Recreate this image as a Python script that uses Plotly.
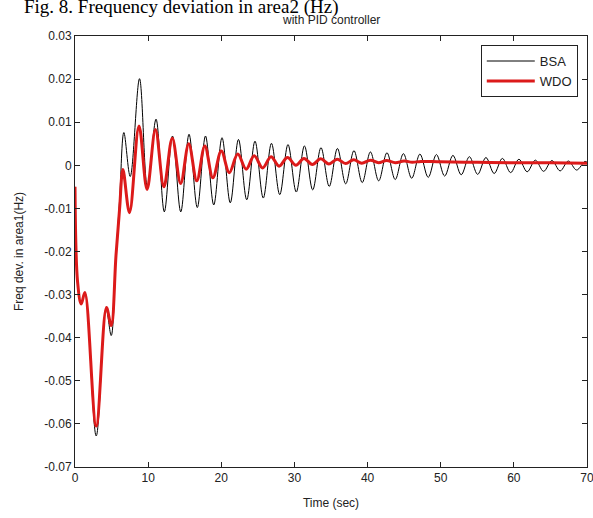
import plotly.graph_objects as go

# ---- data (extrema / turning points) ----
bsa_t = [0.0, 0.35, 0.85, 1.35, 2.9, 4.25, 4.95, 5.6, 6.1, 6.68, 7.55, 8.82, 9.9,
         11.08, 12.21, 13.33, 14.46, 15.59, 16.72, 17.84, 18.97, 20.10, 21.23,
         22.35, 23.48, 24.61, 25.74, 26.86, 27.99, 29.12, 30.25, 31.37, 32.50,
         33.63, 34.76, 35.88, 37.01, 38.14, 39.27, 40.39, 41.52, 42.65, 43.78,
         44.90, 46.03, 47.16, 48.29, 49.41, 50.54, 51.67, 52.80, 53.92, 55.05,
         56.18, 57.31, 58.43, 59.56, 60.69, 61.82, 62.94, 64.07, 65.20, 66.33,
         67.45, 68.58, 69.71, 70.0]
bsa_v = [-0.005, -0.027, -0.0322, -0.0295, -0.0628, -0.0333, -0.0395, -0.021, -0.008,
         0.0076, -0.0026, 0.0201, -0.0050,
         0.0107, -0.0108, 0.0068, -0.0108, 0.0072, -0.0098, 0.0068, -0.0092, 0.0064,
         -0.0087, 0.0060, -0.0080, 0.0056, -0.0076, 0.0051, -0.0068, 0.0048, -0.0062,
         0.0045, -0.0057, 0.0041, -0.0049, 0.0039, -0.0043, 0.0034, -0.0040, 0.0031,
         -0.0036, 0.0029, -0.0033, 0.0027, -0.0030, 0.0026, -0.0028, 0.0025, -0.0025,
         0.0023, -0.0022, 0.0020, -0.0021, 0.0018, -0.0019, 0.0016, -0.0017, 0.0014,
         -0.0015, 0.0012, -0.0014, 0.0011, -0.0013, 0.0010, -0.0011, 0.0009, 0.0007]

wdo_t = [0.0, 0.35, 0.85, 1.35, 2.9, 4.3, 4.95, 5.6, 6.1, 6.55, 7.45, 8.75, 9.85,
         11.0, 12.15, 13.3, 14.45, 15.55, 16.65, 17.75, 18.85, 20.0, 21.1, 22.25,
         23.4, 24.5, 25.65, 26.8, 27.9, 29.05, 30.2, 31.3, 32.45, 33.6, 34.7, 35.85,
         37.0, 38.1, 39.2, 40.4, 41.5, 42.6, 43.8, 45.0, 46.1, 47.3, 50.0, 55.0,
         60.0, 65.0, 70.0]
wdo_v = [-0.005, -0.027, -0.0322, -0.0295, -0.0605, -0.0330, -0.0372, -0.021, -0.010,
         -0.001, -0.011, 0.0091, -0.0056,
         0.0083, -0.0050, 0.0063, -0.0042, 0.0050, -0.0036, 0.0045, -0.0029, 0.0033,
         -0.0017, 0.0026, -0.0009, 0.0022, -0.0006, 0.0020, -0.0002, 0.0018, 0.0000,
         0.0016, 0.0002, 0.0015, 0.0003, 0.0014, 0.0004, 0.0013, 0.0005, 0.0012,
         0.0006, 0.0011, 0.0006, 0.0010, 0.0007, 0.0009, 0.0008, 0.0007,
         0.0006, 0.0006, 0.0005]

x_ticks = [0, 10, 20, 30, 40, 50, 60, 70]
x_ticktext = ["0", "10", "20", "30", "40", "50", "60", "70"]
y_ticks = [0.03, 0.02, 0.01, 0, -0.01, -0.02, -0.03, -0.04, -0.05, -0.06, -0.07]
y_ticktext = ["0.03", "0.02", "0.01", "0", "-0.01", "-0.02", "-0.03", "-0.04",
              "-0.05", "-0.06", "-0.07"]

fig = go.Figure()
fig.add_trace(go.Scatter(x=bsa_t, y=bsa_v, mode="lines", name="BSA",
                         line=dict(color="#000000", width=1, shape="spline", smoothing=1.0)))
fig.add_trace(go.Scatter(x=wdo_t, y=wdo_v, mode="lines", name="WDO",
                         line=dict(color="#dc1a1a", width=3, shape="spline", smoothing=1.0)))

axis_common = dict(showgrid=False, zeroline=False, showline=True, linecolor="#222",
                   linewidth=1, mirror="ticks", ticks="inside", ticklen=5,
                   tickcolor="#222", automargin=False, ticklabeloverflow="allow",
                   tickfont=dict(family="Liberation Sans", size=12, color="#222"))

fig.update_xaxes(range=[0, 70], tickvals=x_ticks, ticktext=x_ticktext,
                 title=dict(text="Time (sec)", font=dict(family="Liberation Sans", size=12, color="#222"),
                            standoff=14), **axis_common)
fig.update_yaxes(range=[-0.07, 0.03], tickvals=y_ticks, ticktext=y_ticktext,
                 title=dict(text="Freq dev. in area1(Hz)", font=dict(family="Liberation Sans", size=12, color="#222"),
                            standoff=18), **axis_common)

fig.update_layout(
    width=593, height=518,
    margin=dict(l=75, r=6, t=36, b=51),
    paper_bgcolor="white", plot_bgcolor="white",
    showlegend=True,
    legend=dict(x=0.982, y=0.979, xanchor="right", yanchor="top",
                bgcolor="white", bordercolor="#222", borderwidth=1,
                font=dict(family="Liberation Sans", size=13, color="#222"),
                itemwidth=48, tracegroupgap=0),
    annotations=[
        dict(text="Fig. 8. Frequency deviation in area2 (Hz)", xref="paper", yref="paper",
             x=-0.1035, y=1.068, xanchor="left", yanchor="middle", showarrow=False,
             font=dict(family="Liberation Serif", size=19, color="#000")),
        dict(text="with PID controller", xref="paper", yref="paper",
             x=0.5, y=1.036, xanchor="center", yanchor="middle", showarrow=False,
             font=dict(family="Liberation Sans", size=12, color="#222")),
    ],
)

fig.write_html("out.html", config={"displayModeBar": False},
               post_script="document.body.style.margin='0';document.body.style.overflow='hidden';")
